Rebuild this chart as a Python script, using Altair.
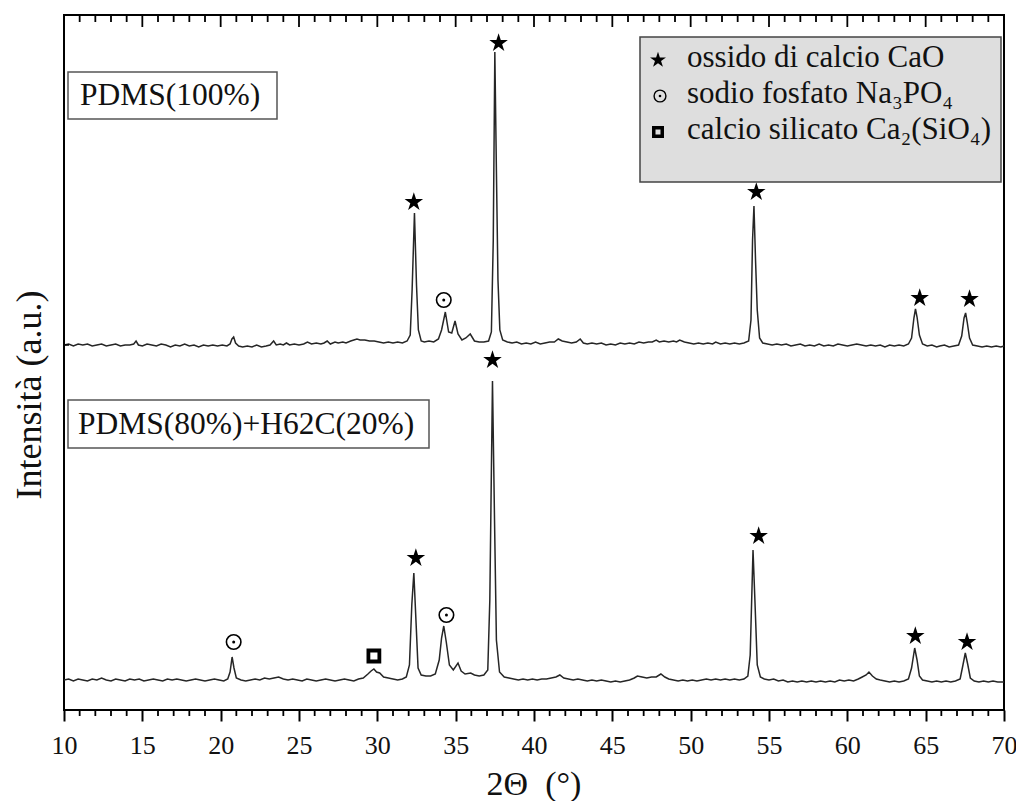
import altair as alt
import pandas as pd

# ---------------- data (2-theta in degrees, intensity in arbitrary units) ----------------
top_trace = [(10.0,365),(10.3,366),(10.6,364),(10.9,366),(11.2,365),(11.5,366),(11.8,364),(12.1,365),(12.4,366),(12.7,364),
(13.0,365),(13.3,366),(13.6,364),(13.9,365),(14.2,365),(14.45,366),(14.6,369),(14.75,365),(15.0,364),(15.3,366),(15.6,365),
(15.9,364),(16.2,366),(16.5,365),(16.8,363),(17.1,365),(17.4,364),(17.7,366),(18.0,364),(18.3,365),(18.6,363),(18.9,365),
(19.2,364),(19.5,365),(19.8,364),(20.1,365),(20.4,364),(20.6,366),(20.72,371),(20.83,373),(20.95,367),(21.15,364),(21.4,363),
(21.7,364),(22.0,363),(22.3,365),(22.6,363),(22.9,364),(23.15,365),(23.38,369),(23.55,365),(23.8,366),(24.0,365),(24.2,367),
(24.4,365),(24.7,366),(25.0,365),(25.3,366),(25.54,368),(25.8,366),(26.1,367),(26.4,366),(26.6,367),(26.8,369),(27.0,366),
(27.3,368),(27.5,367),(27.8,368),(28.0,367),(28.3,369),(28.5,370),(28.7,371),(28.9,370),(29.2,370),(29.5,369),(29.8,369),
(30.1,368),(30.4,367),(30.7,368),(31.0,367),(31.3,368),(31.6,367),(31.9,369),(32.1,375),(32.22,420),(32.37,497),(32.5,425),
(32.62,380),(32.8,369),(33.0,368),(33.3,369),(33.6,368),(33.9,371),(34.1,380),(34.34,398),(34.55,378),(34.75,377),(34.96,389),
(35.15,376),(35.4,370),(35.65,372),(35.93,376),(36.2,369),(36.5,368),(36.8,368),(37.1,369),(37.28,378),(37.4,470),(37.5,658),
(37.6,540),(37.7,430),(37.82,380),(38.0,370),(38.3,368),(38.6,367),(38.9,368),(39.2,366),(39.5,367),(39.8,366),(40.1,368),
(40.4,366),(40.7,367),(41.0,368),(41.3,368),(41.55,371),(41.8,369),(42.1,368),(42.4,367),(42.7,368),(42.95,371),(43.15,367),
(43.4,366),(43.7,367),(44.0,366),(44.3,367),(44.6,365),(44.9,366),(45.2,365),(45.5,367),(45.8,366),(46.1,367),(46.4,366),
(46.7,368),(47.0,367),(47.3,368),(47.55,368),(47.8,370),(48.0,368),(48.3,369),(48.6,368),(48.9,369),(49.1,368),(49.3,370),
(49.6,368),(49.9,367),(50.2,366),(50.5,367),(50.8,366),(51.1,367),(51.4,366),(51.6,368),(51.9,366),(52.2,367),(52.5,366),
(52.8,367),(53.1,366),(53.4,367),(53.7,369),(53.85,390),(53.95,470),(54.04,504),(54.14,450),(54.25,400),(54.4,372),(54.6,367),
(54.9,366),(55.2,365),(55.5,366),(55.8,365),(56.1,366),(56.4,364),(56.7,365),(57.0,366),(57.3,364),(57.6,365),(57.9,364),
(58.2,366),(58.5,364),(58.8,365),(59.1,364),(59.4,366),(59.7,365),(60.0,364),(60.3,365),(60.6,366),(60.9,365),(61.2,364),
(61.5,365),(61.8,364),(62.1,365),(62.4,363),(62.7,365),(63.0,364),(63.3,365),(63.6,364),(63.9,366),(64.1,372),(64.25,392),
(64.35,401),(64.45,393),(64.6,375),(64.8,366),(65.1,364),(65.4,365),(65.7,363),(65.9,364),(66.2,365),(66.5,363),(66.8,364),
(67.1,365),(67.3,374),(67.45,392),(67.55,397),(67.65,388),(67.8,372),(68.0,365),(68.3,364),(68.6,363),(68.9,364),(69.2,363),
(69.5,364),(69.8,363),(70.0,364)]

bottom_trace = [(10.0,30),(10.3,31),(10.6,29),(10.9,31),(11.2,30),(11.5,29),(11.8,31),(12.1,30),(12.4,32),(12.7,30),(13.0,29),
(13.3,31),(13.6,30),(13.9,29),(14.2,31),(14.5,30),(14.8,31),(15.1,29),(15.4,30),(15.7,31),(16.0,30),(16.3,29),(16.6,31),
(16.9,30),(17.2,31),(17.5,30),(17.8,29),(18.1,30),(18.4,31),(18.7,30),(19.0,29),(19.3,30),(19.6,31),(19.9,30),(20.2,29),
(20.45,31),(20.6,38),(20.73,53),(20.85,42),(21.0,32),(21.3,30),(21.6,29),(21.9,30),(22.2,31),(22.5,30),(22.8,32),(23.1,31),
(23.4,32),(23.7,33),(24.0,31),(24.3,30),(24.6,31),(24.9,30),(25.2,29),(25.5,31),(25.8,30),(26.1,29),(26.4,30),(26.7,31),
(27.0,30),(27.3,29),(27.6,30),(27.9,31),(28.2,30),(28.5,29),(28.8,31),(29.1,32),(29.4,36),(29.6,39),(29.78,41),(29.95,38),
(30.15,37),(30.4,33),(30.7,32),(31.0,31),(31.3,30),(31.6,31),(31.85,33),(32.05,45),(32.2,105),(32.33,137),(32.45,95),(32.6,42),
(32.8,35),(33.1,34),(33.4,34),(33.7,36),(33.95,50),(34.1,72),(34.24,84),(34.4,68),(34.6,45),(34.85,40),(35.15,47),(35.35,39),
(35.6,36),(35.96,37),(36.2,35),(36.5,34),(36.8,35),(37.05,40),(37.18,110),(37.35,329),(37.48,190),(37.6,70),(37.8,38),(38.1,33),
(38.4,32),(38.7,31),(39.0,30),(39.3,31),(39.6,30),(39.9,31),(40.2,30),(40.5,31),(40.8,31),(41.1,32),(41.4,33),(41.65,35),
(41.9,32),(42.2,31),(42.5,30),(42.8,31),(43.1,30),(43.4,29),(43.7,30),(44.0,29),(44.3,30),(44.6,29),(44.9,28),(45.2,29),
(45.5,28),(45.8,29),(46.1,30),(46.4,32),(46.6,34),(46.9,33),(47.2,32),(47.5,33),(47.8,33),(48.1,36),(48.35,33),(48.6,31),
(48.9,30),(49.2,29),(49.5,30),(49.8,29),(50.1,30),(50.4,29),(50.7,30),(51.0,31),(51.3,30),(51.6,31),(51.9,30),(52.2,31),
(52.5,30),(52.8,31),(53.1,30),(53.4,31),(53.65,34),(53.8,55),(53.98,160),(54.1,110),(54.25,45),(54.45,33),(54.7,31),(55.0,30),
(55.3,31),(55.6,29),(55.9,30),(56.2,28),(56.5,29),(56.8,28),(57.1,29),(57.4,28),(57.7,29),(58.0,28),(58.3,29),(58.6,28),
(58.9,29),(59.2,28),(59.5,30),(59.8,29),(60.1,30),(60.4,29),(60.7,31),(60.95,33),(61.2,35),(61.38,38),(61.6,34),(61.85,31),
(62.1,30),(62.4,29),(62.7,28),(63.0,29),(63.3,28),(63.6,29),(63.9,31),(64.1,42),(64.3,62),(64.45,50),(64.6,34),(64.8,30),
(65.1,29),(65.4,28),(65.7,29),(66.0,28),(66.3,29),(66.6,28),(66.9,29),(67.2,31),(67.38,45),(67.53,57),(67.68,46),(67.85,32),
(68.1,29),(68.4,28),(68.7,29),(69.0,28),(69.3,29),(69.6,28),(70.0,28)]

# phase markers (2-theta, intensity)
star_marks = [(37.74,667),(32.33,508),(54.19,518),(64.62,412),(67.8,411),
              (32.46,152),(37.35,350),(54.34,174),(64.34,74),(67.64,68)]
circle_marks = [(34.24,410),(20.83,68),(34.41,95)]
square_marks = [(29.78,54)]

major_ticks = list(range(10, 71, 5))
minor_ticks = [v for v in range(10, 71) if v % 5 != 0]
y_ticks = [365]

sample_labels = ["PDMS(100%)", "PDMS(80%)+H62C(20%)"]
legend_labels = ["ossido di calcio CaO",
                 "sodio fosfato Na\u2083PO\u2084",
                 "calcio silicato Ca\u2082(SiO\u2084)"]
x_title = "2\u0398\u00a0\u00a0(\u00b0)"
y_title = "Intensit\u00e0 (a.u.)"

# ---------------- chart ----------------
FONT = "Liberation Serif, Times New Roman, serif"
INK = "#111111"
STAR = ("M0,-1L0.225,-0.309L0.951,-0.309L0.363,0.118L0.588,0.809L0,0.382"
        "L-0.588,0.809L-0.363,0.118L-0.951,-0.309L-0.225,-0.309Z")
W, H = 940, 695

xs = alt.Scale(domain=[10, 70], nice=False, zero=False)
ys = alt.Scale(domain=[0, 695], nice=False, zero=False)
XAX = alt.Axis(values=major_ticks, title=None, grid=False, domain=False,
               tickSize=11, tickWidth=2, tickColor="black",
               labelFont=FONT, labelFontSize=26, labelColor=INK,
               labelPadding=32, labelBaseline="alphabetic", labelFlush=False)

df = pd.concat([
    pd.DataFrame(top_trace, columns=["x", "y"]).assign(series="PDMS(100%)"),
    pd.DataFrame(bottom_trace, columns=["x", "y"]).assign(series="PDMS(80%)+H62C(20%)"),
])

enc = dict(x=alt.X("x:Q", scale=xs, axis=XAX), y=alt.Y("y:Q", scale=ys, axis=None))

lines = alt.Chart(df).mark_line(color="#262626", strokeWidth=1.5).encode(detail="series:N", **enc)

def pts(data):
    return alt.Chart(pd.DataFrame(data, columns=["x", "y"]))

stars = pts(star_marks).mark_point(shape=STAR, filled=True, color="black", size=380, opacity=1).encode(**enc)
circles = pts(circle_marks).mark_point(shape="circle", filled=False, color="black", strokeWidth=1.6, size=210, opacity=1).encode(**enc)
dots = pts(circle_marks).mark_point(shape="circle", filled=True, color="black", size=9, opacity=1).encode(**enc)
squares = pts(square_marks).mark_point(shape="square", filled=False, color="black", strokeWidth=3.8, size=120, opacity=1).encode(**enc)

tk_major = pd.DataFrame({"x": major_ticks})
tk_minor = pd.DataFrame({"x": minor_ticks})
tx = alt.X("x:Q", scale=xs, axis=XAX)
top_major = alt.Chart(tk_major).mark_rule(color="black", strokeWidth=1.8).encode(x=tx, y=alt.value(0), y2=alt.value(12))
top_minor = alt.Chart(tk_minor).mark_rule(color="black", strokeWidth=1.8).encode(x=tx, y=alt.value(0), y2=alt.value(7))
bot_minor = alt.Chart(tk_minor).mark_rule(color="black", strokeWidth=1.8).encode(x=tx, y=alt.value(H), y2=alt.value(H + 6))
left_tick = alt.Chart(pd.DataFrame({"y": y_ticks})).mark_rule(color="black", strokeWidth=1.5).encode(
    y=alt.Y("y:Q", scale=ys, axis=None), x=alt.value(0), x2=alt.value(5))

# sample label boxes
def label_box(text, x0, x1, y0, y1, tx0, ty):
    d = pd.DataFrame({"label": [text]})
    box = alt.Chart(d).mark_rect(fill="white", stroke="#555555", strokeWidth=1.5).encode(
        x=alt.value(x0), x2=alt.value(x1), y=alt.value(y0), y2=alt.value(y1))
    txt = alt.Chart(d).mark_text(font=FONT, fontSize=31.5, color=INK, align="left", baseline="middle").encode(
        x=alt.value(tx0), y=alt.value(ty), text="label:N")
    return box + txt

box1 = label_box(sample_labels[0], 4, 213, 57, 104, 16, 81)
box2 = label_box(sample_labels[1], 4, 365, 385, 433, 14, 410)

# legend
leg_df = pd.DataFrame({"label": legend_labels})
one = pd.DataFrame({"a": [0]})
leg_box = alt.Chart(one).mark_rect(fill="#dedede", stroke="#444444", strokeWidth=1.5).encode(
    x=alt.value(576), x2=alt.value(937), y=alt.value(22), y2=alt.value(167))
leg_text = alt.Chart(leg_df).transform_window(i="row_number()").transform_calculate(
    ly="7 + 36 * datum.i").mark_text(font=FONT, fontSize=31, color=INK, align="left", baseline="middle").encode(
    x=alt.value(623), y=alt.Y("ly:Q", scale=None), text="label:N")
leg_star = alt.Chart(one).mark_point(shape=STAR, filled=True, color="black", size=280, opacity=1).encode(
    x=alt.value(594), y=alt.value(45))
leg_circ = alt.Chart(one).mark_point(shape="circle", filled=False, color="black", strokeWidth=1.4, size=140, opacity=1).encode(
    x=alt.value(596), y=alt.value(81))
leg_dot = alt.Chart(one).mark_point(shape="circle", filled=True, color="black", size=7, opacity=1).encode(
    x=alt.value(596), y=alt.value(81))
leg_sq = alt.Chart(one).mark_point(shape="square", filled=False, color="black", strokeWidth=3.5, size=72, opacity=1).encode(
    x=alt.value(594), y=alt.value(117))

# axis titles
xt = alt.Chart(pd.DataFrame({"t": [x_title]})).mark_text(font=FONT, fontSize=34, color=INK, align="center", baseline="alphabetic").encode(
    x=alt.value(W / 2), y=alt.value(780), text="t:N")
yt = alt.Chart(pd.DataFrame({"t": [y_title]})).mark_text(font=FONT, fontSize=36, color=INK, align="center", baseline="middle", angle=270).encode(
    x=alt.value(-34), y=alt.value(380), text="t:N")

chart = alt.layer(
    lines, top_major, top_minor, bot_minor, left_tick, stars, circles, dots, squares,
    box1, box2, leg_box, leg_text, leg_star, leg_circ, leg_dot, leg_sq, xt, yt,
).properties(
    width=W, height=H, autosize="none", background="white",
    padding={"left": 56, "top": 7, "right": 12, "bottom": 91},
).configure_view(stroke="black", strokeWidth=2)

chart.save("out.html", embed_options={"renderer": "svg", "actions": False})
